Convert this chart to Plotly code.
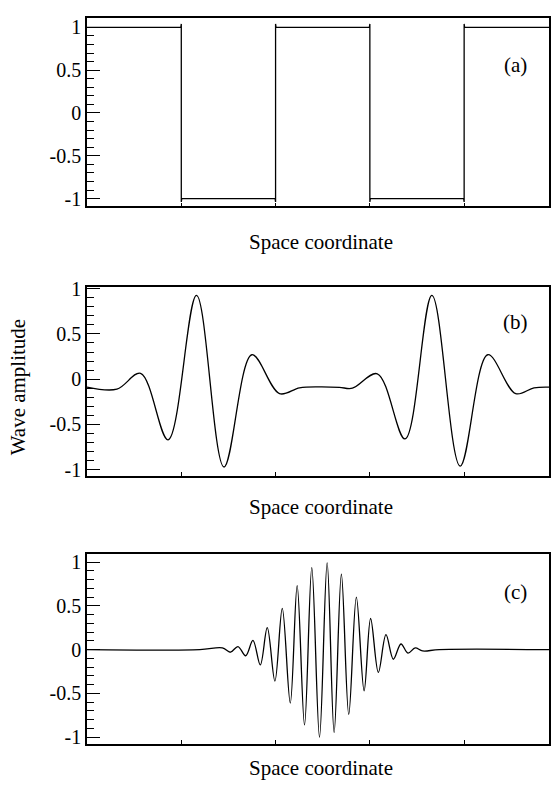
import plotly.graph_objects as go

# ---- data ----
# (a) square wave corner points
sq_x = [0, 0.995, 1.0, 1.0, 1.005, 1.995, 2.0, 2.0, 2.005, 2.995, 3.0, 3.0, 3.005, 3.995, 4.0, 4.0, 4.005, 4.9]
sq_y = [1, 1, 1.04, -1.04, -1, -1, -1.04, 1.04, 1, 1, 1.04, -1.04, -1, -1, -1.04, 1.04, 1, 1]

# (b) wavelet train (read extrema / shape points)
wv_x = [0.0, 0.317, 0.568, 0.860, 1.161, 1.453, 1.749, 2.042, 2.254, 2.466, 2.677, 2.815,
        3.079, 3.373, 3.658, 3.958, 4.251, 4.547, 4.741, 4.9]
wv_y = [-0.087, -0.11, 0.065, -0.67, 0.925, -0.97, 0.27, -0.16, -0.095, -0.085, -0.09, -0.10,
        0.06, -0.66, 0.925, -0.96, 0.27, -0.16, -0.095, -0.087]

# (c) wave packet (read extrema)
pk_x = [0.0, 1.196, 1.436, 1.521, 1.601, 1.683, 1.760, 1.838, 1.912, 1.993, 2.071, 2.156,
        2.229, 2.307, 2.384, 2.466, 2.547, 2.621, 2.698, 2.776, 2.857, 2.939, 3.008, 3.090,
        3.171, 3.249, 3.330, 3.404, 3.481, 3.559, 3.735, 4.9]
pk_y = [0.0, 0.0, 0.02, -0.03, 0.035, -0.07, 0.105, -0.175, 0.25, -0.36, 0.47, -0.61,
        0.73, -0.86, 0.935, -1.0, 0.99, -0.945, 0.86, -0.74, 0.6, -0.47, 0.355, -0.26,
        0.17, -0.11, 0.064, -0.04, 0.02, -0.015, 0.0, 0.0]

x_ticks = [1, 2, 3, 4]
y_ticks = [-1, -0.5, 0, 0.5, 1]
y_ticktext = ["-1", "-0.5", "0", "0.5", "1"]
panel_labels = ["(a)", "(b)", "(c)"]
x_title = "Space coordinate"
y_title = "Wave amplitude"

# ---- layout geometry ----
W, H = 551, 791
L, R = 87, 1
FONT = "Liberation Serif"
panels = [  # (top px, bottom px, y range)
    (9.3, 201, [-1.092, 1.108]),
    (282.5, 475, [-1.065, 1.024]),
    (555.3, 748, [-1.075, 1.086]),
]
title_y = [237, 507, 773]
label_y = [57.5, 318.5, 594]

fig = go.Figure()
series = [(sq_x, sq_y, "linear"), (wv_x, wv_y, "spline"), (pk_x, pk_y, "spline")]
for i, (xs, ys, shape) in enumerate(series):
    n = "" if i == 0 else str(i + 1)
    fig.add_trace(go.Scatter(x=xs, y=ys, mode="lines",
                             line=dict(color="black", width=1.3, shape=shape, smoothing=1.0),
                             xaxis="x" + n, yaxis="y" + n, showlegend=False, hoverinfo="skip"))
    top, bot, yr = panels[i]
    fig.layout["xaxis" + n] = dict(
        domain=[0, 1], anchor="y" + n, range=[0, 4.9],
        tickvals=x_ticks, ticktext=["" for _ in x_ticks], ticks="inside", ticklen=4,
        tickcolor="black", tickwidth=1, showgrid=False, zeroline=False,
        showline=True, linecolor="black", linewidth=1.5, mirror=True)
    fig.layout["yaxis" + n] = dict(
        domain=[1 - bot / H, 1 - top / H], anchor="x" + n, range=yr,
        tickvals=y_ticks, ticktext=y_ticktext, ticks="inside", ticklen=13,
        tickwidth=1.2, tickcolor="black", showgrid=False, zeroline=False,
        showline=True, linecolor="black", linewidth=1.5, mirror=True,
        minor=dict(dtick=0.1, ticks="inside", ticklen=7, tickwidth=1, tickcolor="black",
                   showgrid=False),
        tickfont=dict(family=FONT, size=20, color="black"))

annotations = []
pw = W - L - R
for i in range(3):
    annotations.append(dict(text=x_title, xref="paper", yref="paper",
                            x=(321.5 - L) / pw, y=1 - title_y[i] / H,
                            showarrow=False, xanchor="center", yanchor="middle",
                            font=dict(family=FONT, size=21, color="black")))
    annotations.append(dict(text=panel_labels[i], xref="paper", yref="paper",
                            x=(516 - L) / pw, y=1 - label_y[i] / H,
                            showarrow=False, xanchor="center", yanchor="middle",
                            font=dict(family=FONT, size=21, color="black")))
annotations.append(dict(text=y_title, xref="paper", yref="paper",
                        x=(18 - L) / pw, y=1 - 385 / H, textangle=-90,
                        showarrow=False, xanchor="center", yanchor="middle",
                        font=dict(family=FONT, size=21, color="black")))

fig.update_layout(width=W, height=H, margin=dict(l=L, r=R, t=0, b=0),
                  paper_bgcolor="white", plot_bgcolor="white",
                  annotations=annotations, font=dict(family=FONT, color="black"))

fig.write_html("out.html")
